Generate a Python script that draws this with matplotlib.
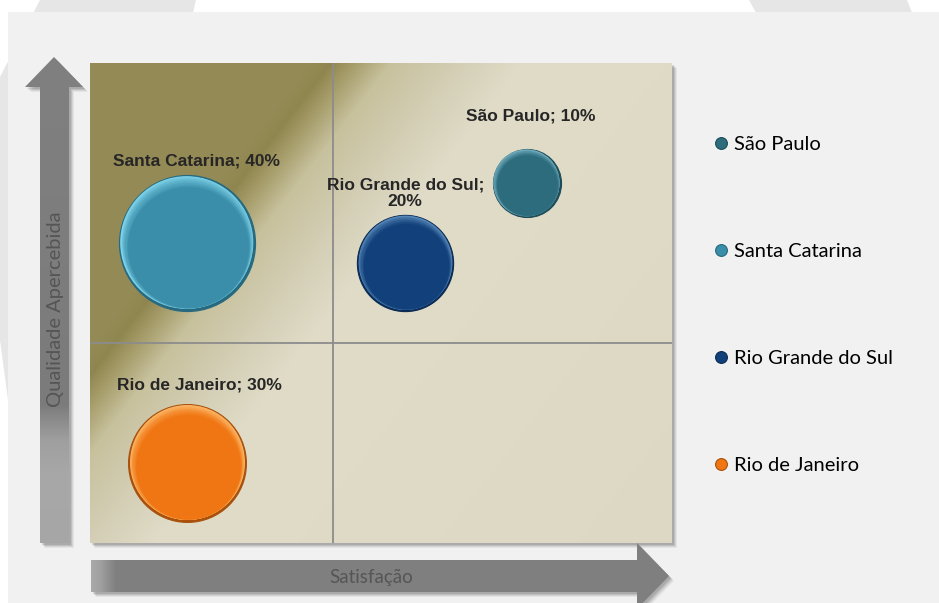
import numpy as np
import matplotlib
matplotlib.use("Agg")
import matplotlib.pyplot as plt
from matplotlib.patches import Polygon, Rectangle
from matplotlib.lines import Line2D
from matplotlib.colors import to_rgb
from matplotlib import transforms

# data
states = ["São Paulo", "Santa Catarina", "Rio Grande do Sul", "Rio de Janeiro"]
satisfacao = [9.0, 2.0, 6.5, 2.0]
qualidade = [9.0, 7.5, 7.0, 2.0]
share = [10, 40, 20, 30]
labels = ["São Paulo; 10%", "Santa Catarina; 40%", "Rio Grande do Sul;\n20%", "Rio de Janeiro; 30%"]
label_offsets = [(3, 48), (7, 59), (0, 50), (9, 56)]

colors = ["#2c6c7d", "#3a8ea9", "#11407a", "#f07613"]
highlights = ["#72adbd", "#7ed3ea", "#5686b8", "#fdb868"]
edges = ["#1d4c58", "#276a80", "#0a2b55", "#a9510b"]

W, H = 939, 603


def grad_colors(t, stops, cols):
    rgb = np.array([to_rgb(c) for c in cols])
    return np.stack([np.interp(t, stops, rgb[:, k]) for k in range(3)], axis=-1)


def mix(c1, c2, f):
    a, b = np.array(to_rgb(c1)), np.array(to_rgb(c2))
    return tuple(a * (1 - f) + b * f)


fig = plt.figure(figsize=(W / 100, H / 100), dpi=100, facecolor="white")

# background layer in pixel coordinates
bg = fig.add_axes([0, 0, 1, 1], zorder=-5)
bg.set_xlim(0, W)
bg.set_ylim(H, 0)
bg.axis("off")

bg.add_patch(Polygon([(40, 0), (196, 0), (150, 200), (8, 400), (0, 340), (0, 77)],
                     closed=True, color="#e6e6e6", lw=0, zorder=0))
bg.add_patch(Polygon([(749, 0), (907, 0), (915, 20), (760, 20)],
                     closed=True, color="#e6e6e6", lw=0, zorder=0))
bg.add_patch(Rectangle((8, 12), W - 8, H - 12, color="#f1f1f1", lw=0, zorder=0.5))

# arrows
v_arrow = [(54, 57), (83, 87), (69, 87), (69, 543), (40, 543), (40, 87), (25, 87)]
h_arrow = [(91, 560), (637, 560), (637, 543), (669, 576), (637, 609), (637, 592), (91, 592)]

for pts in (v_arrow, h_arrow, [(90, 63), (672, 63), (672, 543), (90, 543)]):
    for k, a in ((5, 0.05), (4, 0.07), (3, 0.09), (2, 0.11)):
        bg.add_patch(Polygon([(x + k, y + k) for x, y in pts], closed=True,
                             color="black", alpha=a, lw=0, zorder=1))

yy = np.linspace(57, 543, 300)
vcol = grad_colors(yy, [57, 405, 440, 475, 543],
                   ["#808080", "#7b7b7b", "#9f9f9f", "#a8a8a8", "#a6a6a6"])
im = bg.imshow(np.repeat(vcol[:, None, :], 2, axis=1), extent=(25, 83, 543, 57),
               aspect="auto", interpolation="bilinear", zorder=2)
im.set_clip_path(Polygon(v_arrow, closed=True, transform=bg.transData))

xx = np.linspace(91, 669, 400)
hcol = grad_colors(xx, [91, 100, 115, 669], ["#a9a9a9", "#a0a0a0", "#808080", "#7f7f7f"])
im = bg.imshow(np.repeat(hcol[None, :, :], 2, axis=0), extent=(91, 669, 609, 543),
               aspect="auto", interpolation="bilinear", zorder=2)
im.set_clip_path(Polygon(h_arrow, closed=True, transform=bg.transData))

bg.text(56, 309, "Qualidade Apercebida", rotation=90, ha="center", va="center",
        fontsize=14.5, family="Lato", color="#555555", zorder=3)
bg.text(371, 577, "Satisfação", ha="center", va="center",
        fontsize=13.5, family="Lato", color="#555555", zorder=3)

# main plot
ax = fig.add_axes([90 / W, 60 / H, 582 / W, 480 / H])
ax.set_xlim(0, 12)
ax.set_ylim(0, 12)
ax.axis("off")

px, py = np.meshgrid(np.arange(582) + 90, np.arange(480) + 63)
d = 0.792 * px + 0.611 * py
bgimg = grad_colors(d, [0, 285, 300, 322, 348, 400, 455, 900],
                    ["#958b56", "#948a55", "#8f864f", "#aaa170", "#c7c19d",
                     "#d3ceb4", "#e0dcc8", "#ddd8c3"])
ax.imshow(bgimg, extent=(0, 12, 0, 12), aspect="auto", zorder=0, interpolation="bilinear")

ax.axvline(5, color="#8c8c8c", lw=1.3, zorder=1)
ax.axhline(5, color="#8c8c8c", lw=1.3, zorder=1)

sizes = np.array(share) * 240.0
n = 12
for i in range(len(states)):
    D = np.sqrt(sizes[i])
    ax.scatter(satisfacao[i], qualidade[i], s=sizes[i], color=edges[i],
               edgecolor=edges[i], linewidth=0.8, zorder=3)
    for k in range(n):
        f = k / (n - 1)
        dia = D * (0.975 - 0.09 * f)
        off = transforms.offset_copy(ax.transData, fig=fig, x=-0.004 * D + 0.012 * D * f,
                                     y=0.008 * D - 0.038 * D * f, units="points")
        c = mix(highlights[i], colors[i], f ** 0.8)
        ax.scatter(satisfacao[i], qualidade[i], s=dia ** 2, color=c,
                   lw=0, zorder=4 + k * 0.01, transform=off)
    ax.annotate(labels[i], (satisfacao[i], qualidade[i]), xytext=label_offsets[i],
                textcoords="offset points", ha="center", va="center",
                fontsize=12.5, fontweight="bold", family="Liberation Sans",
                color="#262626", linespacing=1.15, zorder=6)

handles = [Line2D([], [], marker="o", ls="", markersize=8.5, markerfacecolor=colors[i],
                  markeredgecolor=edges[i], markeredgewidth=0.8) for i in range(len(states))]
fig.legend(handles, states, loc="center left", bbox_to_anchor=(714 / W, 1 - 305 / H),
           frameon=False, borderpad=0, borderaxespad=0, handlelength=0.7,
           handletextpad=0.3, labelspacing=4.46,
           prop={"family": "Lato", "size": 14.5})

fig.savefig("out.png", dpi=100, facecolor="white")
